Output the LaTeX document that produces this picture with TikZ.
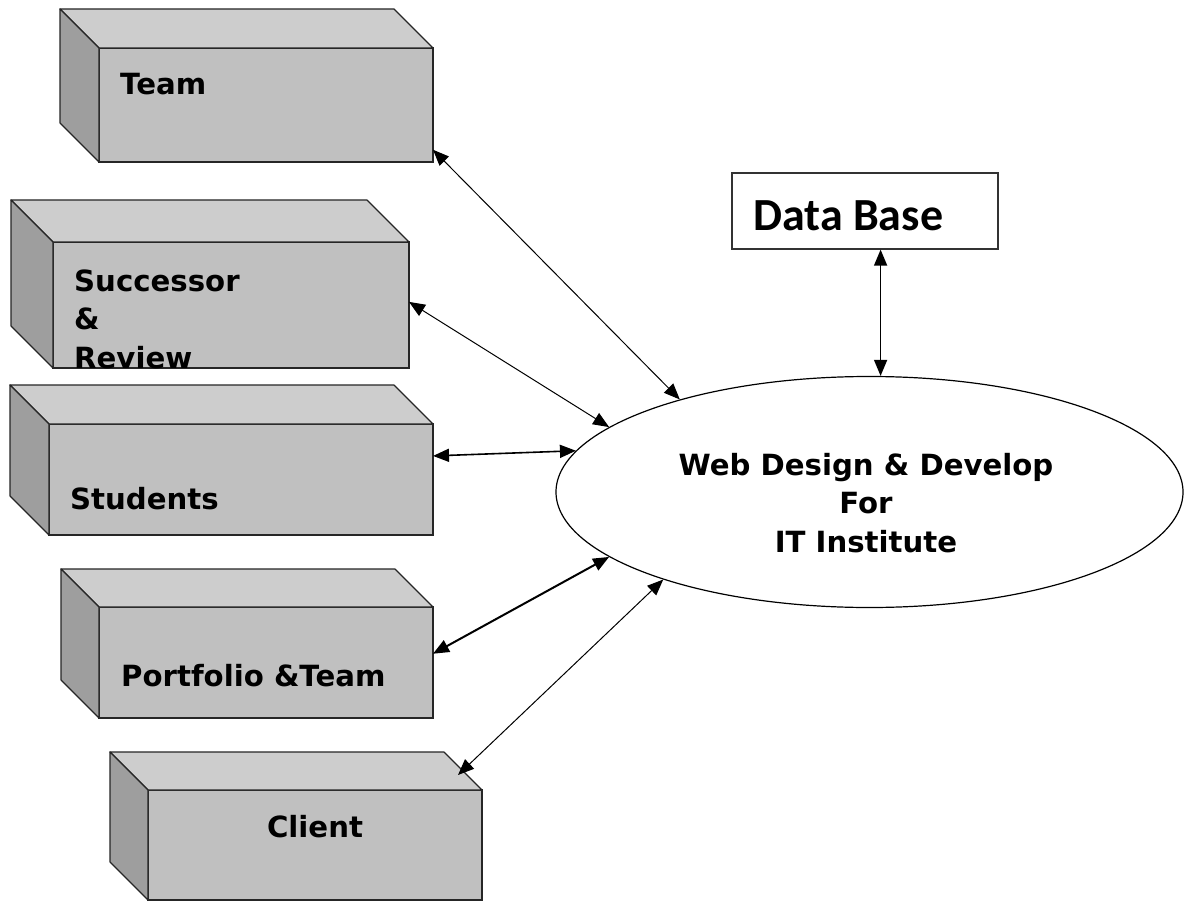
\documentclass[tikz,border=0pt]{standalone}
\usepackage{fontspec}
\setmainfont{DejaVu Sans}
\newfontfamily\dbfont{Carlito}
\usetikzlibrary{positioning,shapes.geometric,arrows.meta}
\definecolor{boxfront}{HTML}{C0C0C0}
\definecolor{boxtop}{HTML}{CDCDCD}
\definecolor{boxside}{HTML}{9E9E9E}

\begin{document}
\begin{tikzpicture}
[x=1pt, y=-1pt, >={Triangle[length=16pt,width=13pt]},
 block/.style={draw=black!85, line width=1.2pt, fill=boxfront, inner sep=0pt, outer sep=0pt},
 face/.style={draw=black!85, line width=1.2pt, line join=round},
 lbl/.style={inner sep=0pt, font=\bfseries\fontsize{29.2}{38.5}\selectfont},
 hub/.style={draw=black, line width=1.2pt, shape=ellipse, inner sep=0pt, minimum width=627, minimum height=231},
 link/.style={<->, line width=1pt}]
\path[use as bounding box, fill=white] (0,0) rectangle (1186,920);
\node[block, minimum width=334, minimum height=114] (team) at (266,105) {};
\node[block, minimum width=356, minimum height=126] (succ) at (231,305) {};
\node[block, minimum width=384, minimum height=111] (stud) at (241,479.5) {};
\node[block, minimum width=334, minimum height=111] (port) at (266,662.5) {};
\node[block, minimum width=334, minimum height=110] (client) at (315,845) {};
\foreach \b/\d in {team/39,succ/42,stud/39,port/38,client/38}{
  \draw[face, fill=boxtop] (\b.north west) -- ++(-\d,-\d) -- ([shift={(-\d,-\d)}]\b.north east) -- (\b.north east) -- cycle;
  \draw[face, fill=boxside] (\b.north west) -- ++(-\d,-\d) -- ([shift={(-\d,-\d)}]\b.south west) -- (\b.south west) -- cycle;
}
\node[lbl, anchor=base west] (teamlbl) at (120,95) {Team};
\node[lbl, anchor=base west, align=left] (succlbl) at (74,368) {Successor\\\&\\Review};
\node[lbl, anchor=base west] (studlbl) at (70,509) {Students};
\node[lbl, anchor=base west] (portlbl) at (121,686) {Portfolio \&Team};
\node[lbl, anchor=base] (clientlbl) at (315,837) {Client};
\node[hub] (web) at (869.5,492) {};
\node[lbl, anchor=base, align=center] (weblbl) at (866,552) {Web Design \& Develop\\For\\IT Institute};
\node[draw=black!80, line width=1.2pt, minimum width=266, minimum height=76, inner sep=0pt] (db) at (865,211) {};
\node[anchor=base west, inner sep=0pt, font=\dbfont\bfseries\fontsize{46}{50}\selectfont] (dblbl) at (753,231) {Data Base};
\draw[link] (team.-15.7) -- (web.154.1);
\draw[link] (succ.1) -- (web.166.3);
\draw[link, line width=1.6pt] (stud.7.86) -- (web.172.3);
\draw[link, line width=2pt] (port.3.6) -- (web.-166.2);
\draw[link] ([shift={(-24,-15)}]client.north east) -- (web.-157);
\draw[link, line width=1.5pt] (db.-68.5) -- (db.-68.5 |- web.north);
\end{tikzpicture}
\end{document}
